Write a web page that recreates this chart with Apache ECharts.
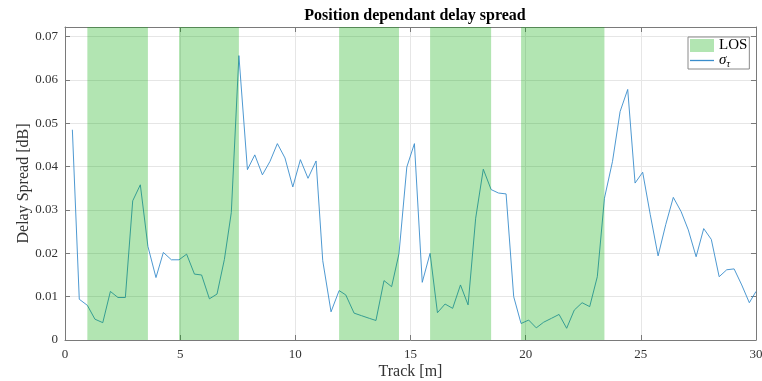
<!DOCTYPE html>
<html>
<head>
<meta charset="utf-8">
<script src="https://cdn.jsdelivr.net/npm/echarts@6/dist/echarts.min.js"></script>
<style>
html,body{margin:0;padding:0;background:#fff;}
#chart{width:762px;height:381px;}
</style>
</head>
<body>
<div id="chart"></div>
<script>
// Track positions [m]
var track = [0.32,0.62,0.97,1.30,1.64,1.97,2.30,2.62,2.94,3.27,3.60,3.95,4.27,4.62,4.95,5.28,5.62,5.93,6.27,6.60,6.92,7.22,7.55,7.92,8.24,8.57,8.90,9.22,9.55,9.89,10.22,10.55,10.90,11.19,11.55,11.90,12.19,12.55,12.88,13.21,13.50,13.85,14.18,14.50,14.84,15.17,15.51,15.85,16.17,16.50,16.83,17.17,17.50,17.83,18.16,18.50,18.82,19.15,19.48,19.80,20.13,20.46,20.78,21.12,21.45,21.78,22.11,22.45,22.78,23.11,23.42,23.77,24.10,24.43,24.75,25.08,25.41,25.75,26.08,26.41,26.75,27.06,27.40,27.73,28.06,28.40,28.73,29.05,29.38,29.71,30.00];
// Delay spread values
var spread = [0.0485,0.0094,0.0080,0.0048,0.0040,0.0112,0.0098,0.0098,0.0321,0.0358,0.0216,0.0144,0.0202,0.0185,0.0185,0.0198,0.0152,0.0150,0.0095,0.0106,0.0186,0.0294,0.0656,0.0393,0.0427,0.0381,0.0412,0.0453,0.0420,0.0353,0.0416,0.0373,0.0413,0.0183,0.0065,0.0114,0.0104,0.0062,0.0056,0.0050,0.0045,0.0137,0.0123,0.0199,0.0399,0.0453,0.0133,0.0200,0.0063,0.0083,0.0073,0.0127,0.0081,0.0281,0.0394,0.0347,0.0339,0.0337,0.0100,0.0038,0.0046,0.0028,0.0041,0.0050,0.0059,0.0027,0.0069,0.0086,0.0077,0.0146,0.0327,0.0412,0.0527,0.0578,0.0362,0.0387,0.0289,0.0194,0.0266,0.0329,0.0296,0.0254,0.0192,0.0257,0.0232,0.0146,0.0162,0.0164,0.0127,0.0086,0.0112];
// LOS intervals [start, end] in m
var losStart = [0.97, 4.95, 11.90, 15.85, 19.80];
var losEnd   = [3.60, 7.55, 14.50, 18.50, 23.42];
// Axis ticks
var xTicks = [0, 5, 10, 15, 20, 25, 30];
var yTicks = [0, 0.01, 0.02, 0.03, 0.04, 0.05, 0.06, 0.07];

var serif = "'Liberation Serif', 'Times New Roman', serif";
var axisCol = '#7a7a7a';
var labelCol = '#333333';
var gridCol = '#e6e6e6';
var losFill = 'rgba(0,170,0,0.3)';
var lineCol = '#3a8dcc';

var chart = echarts.init(document.getElementById('chart'), null, {renderer: 'canvas'});

function baseX(pos, show) {
  return {
    type: 'value', position: pos, min: xTicks[0], max: xTicks[xTicks.length - 1], interval: 5,
    axisLine: {show: true, onZero: false, lineStyle: {color: axisCol, width: 1}},
    axisTick: {show: true, inside: true, length: 5, lineStyle: {color: axisCol}},
    axisLabel: {show: show, margin: 8, color: labelCol, fontFamily: serif, fontSize: 13},
    splitLine: {show: show, lineStyle: {color: gridCol, width: 1}}
  };
}
function baseY(pos, show) {
  return {
    type: 'value', position: pos, min: yTicks[0], max: 0.0722, interval: 0.01,
    axisLine: {show: true, onZero: false, lineStyle: {color: axisCol, width: 1}},
    axisTick: {show: true, inside: true, length: 5, lineStyle: {color: axisCol}},
    axisLabel: {show: show, showMaxLabel: false, margin: 7, color: labelCol, fontFamily: serif, fontSize: 13,
      formatter: function (v) { return Math.abs(v * 100 - Math.round(v * 100)) < 1e-6 ? String(Math.round(v * 100) / 100) : ''; }},
    splitLine: {show: show, lineStyle: {color: gridCol, width: 1}}
  };
}

var bx = baseX('bottom', true);
bx.name = 'Track [m]';
bx.nameLocation = 'middle';
bx.nameGap = 24;
bx.nameMoveOverlap = false;
bx.nameTextStyle = {color: labelCol, fontFamily: serif, fontSize: 16};
var tx = baseX('top', false);

var ly = baseY('left', true);
ly.name = 'Delay Spread [dB]';
ly.nameLocation = 'middle';
ly.nameGap = 33;
ly.nameMoveOverlap = false;
ly.nameTextStyle = {color: labelCol, fontFamily: serif, fontSize: 16};
var ry = baseY('right', false);

var lineData = track.map(function (t, i) { return [t, spread[i]]; });
var areas = losStart.map(function (s, i) { return [{xAxis: s}, {xAxis: losEnd[i]}]; });

chart.setOption({
  animation: false,
  backgroundColor: '#ffffff',
  title: {
    text: 'Position dependant delay spread',
    left: 410, top: 3, textAlign: 'center',
    textStyle: {fontFamily: serif, fontWeight: 'bold', fontSize: 16, color: '#000'}
  },
  grid: {left: 65, right: 6, top: 27, bottom: 41, containLabel: false, outerBoundsMode: 'none'},
  xAxis: [bx, tx],
  yAxis: [ly, ry],
  legend: {
    orient: 'vertical', left: 688, top: 37,
    backgroundColor: '#ffffff', borderColor: '#8a8a8a', borderWidth: 1,
    padding: [1, 2, 0, 2], itemGap: 0, itemWidth: 24, itemHeight: 13,
    symbolKeepAspect: true,
    textStyle: {fontFamily: serif, fontSize: 15, color: '#000',
      rich: {
        s: {fontFamily: serif, fontStyle: 'italic', fontSize: 15, color: '#000'},
        sub: {fontFamily: serif, fontStyle: 'italic', fontSize: 10, color: '#000', padding: [7, 0, 0, 0]}
      }},
    formatter: function (n) { return n === 'LOS' ? 'LOS' : '{s|σ}{sub|τ}'; },
    data: [
      {name: 'LOS', icon: 'rect'},
      {name: 'sigma', icon: 'path://M0,0H24V1.3H0Z', itemStyle: {color: lineCol}}
    ]
  },
  series: [
    {
      name: 'sigma', type: 'line', xAxisIndex: 0, yAxisIndex: 0,
      data: lineData, symbol: 'none', z: 2,
      lineStyle: {color: lineCol, width: 0.9}, itemStyle: {color: lineCol}
    },
    {
      name: 'LOS', type: 'line', xAxisIndex: 0, yAxisIndex: 0, data: [], z: 5,
      itemStyle: {color: losFill}, lineStyle: {color: losFill},
      markArea: {silent: true, z: 5, itemStyle: {color: losFill}, data: areas}
    }
  ]
});
</script>
</body>
</html>
